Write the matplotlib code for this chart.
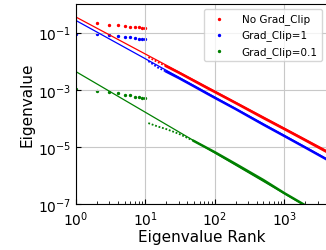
import numpy as np
import matplotlib
matplotlib.use("Agg")
import matplotlib.pyplot as plt

# top eigenvalues, ranks 1..10
top_rank = [2, 3, 4, 5, 6, 7, 8, 9, 10]
top_rank_b = [1, 2, 3, 4, 5, 6, 7, 8, 9, 10]
top_noclip = [0.21, 0.186, 0.178, 0.166, 0.162, 0.155, 0.151, 0.145, 0.141]
top_clip1 = [0.089, 0.089, 0.084, 0.079, 0.072, 0.069, 0.065, 0.062, 0.06, 0.058]
top_clip01 = [0.00105, 0.00091, 0.00081, 0.00074, 0.00066, 0.00063, 0.00058, 0.00055, 0.00053, 0.00052]

# sparse part of the spectrum just after rank 10
mid_rank = [11, 15, 20]
mid_noclip = [1.38e-2, 9.3e-3, 6.6e-3]
mid_clip1 = [1.0e-2, 6.0e-3, 4.3e-3]
mid_rank_g = [11, 15, 20, 30, 50]
mid_clip01 = [6.8e-5, 5.2e-5, 4.2e-5, 2.9e-5, 1.6e-5]

# dense bulk
bulk_rank = [20, 30, 50, 80, 100, 200, 500, 1000, 2000, 4100]
bulk_noclip = [6.6e-3, 4.0e-3, 2.04e-3, 1.1e-3, 8.3e-4, 3.4e-4, 1.02e-4, 4.2e-5, 1.7e-5, 6.6e-6]
bulk_clip1 = [4.3e-3, 2.6e-3, 1.32e-3, 7.0e-4, 5.2e-4, 2.1e-4, 6.0e-5, 2.4e-5, 9.5e-6, 3.6e-6]
bulk_rank_g = [50, 80, 100, 200, 500, 1000, 2000, 4100]
bulk_clip01 = [1.6e-5, 8.7e-6, 6.5e-6, 2.5e-6, 6.9e-7, 2.4e-7, 9.0e-8, 3.2e-8]

# power-law fit lines (values at rank 1 and rank 4100)
fit_rank = [1, 4100]
fit_noclip = [0.35, 7.3e-6]
fit_clip1 = [0.265, 3.8e-6]
fit_clip01 = [4.3e-3, 3.1e-8]

fig = plt.figure(figsize=(3.26, 2.51), dpi=100)
ax = fig.add_axes([0.233, 0.183, 0.77, 0.797])

# fit lines
ax.plot(fit_rank, fit_noclip, color='red', lw=0.9)
ax.plot(fit_rank, fit_clip1, color='blue', lw=0.9)
ax.plot(fit_rank, fit_clip01, color='green', lw=0.9)

# sparse tail right after the top 10
ax.plot(mid_rank, mid_noclip, color='red', lw=1.3, ls=(0, (1, 1)))
ax.plot(mid_rank, mid_clip1, color='blue', lw=1.3, ls=(0, (1, 1)))
ax.plot(mid_rank_g, mid_clip01, color='green', lw=1.3, ls=(0, (1, 1)))

# dense bulk
ax.plot(bulk_rank, bulk_noclip, color='red', lw=1.8)
ax.plot(bulk_rank, bulk_clip1, color='blue', lw=1.8)
ax.plot(bulk_rank_g, bulk_clip01, color='green', lw=1.8)

ax.scatter(top_rank, top_noclip, s=2, color='red', label='No Grad_Clip')
ax.scatter(top_rank_b, top_clip1, s=2, color='blue', label='Grad_Clip=1')
ax.scatter(top_rank_b, top_clip01, s=2, color='green', label='Grad_Clip=0.1')

ax.set_xscale('log')
ax.set_yscale('log')
ax.set_xlim(1, 4100)
ax.set_ylim(1e-7, 1)
ax.set_yticks([1e-1, 1e-3, 1e-5, 1e-7])
ax.grid(True, color='#c8c8c8', lw=0.8)
ax.tick_params(which='both', direction='in', labelsize=10)
ax.set_xlabel('Eigenvalue Rank', fontsize=11, labelpad=1)
ax.set_ylabel('Eigenvalue', fontsize=11, labelpad=2)
ax.legend(loc='upper right', fontsize=7.5, markerscale=1.0, handletextpad=1.2)

fig.savefig('out.png', dpi=100)
